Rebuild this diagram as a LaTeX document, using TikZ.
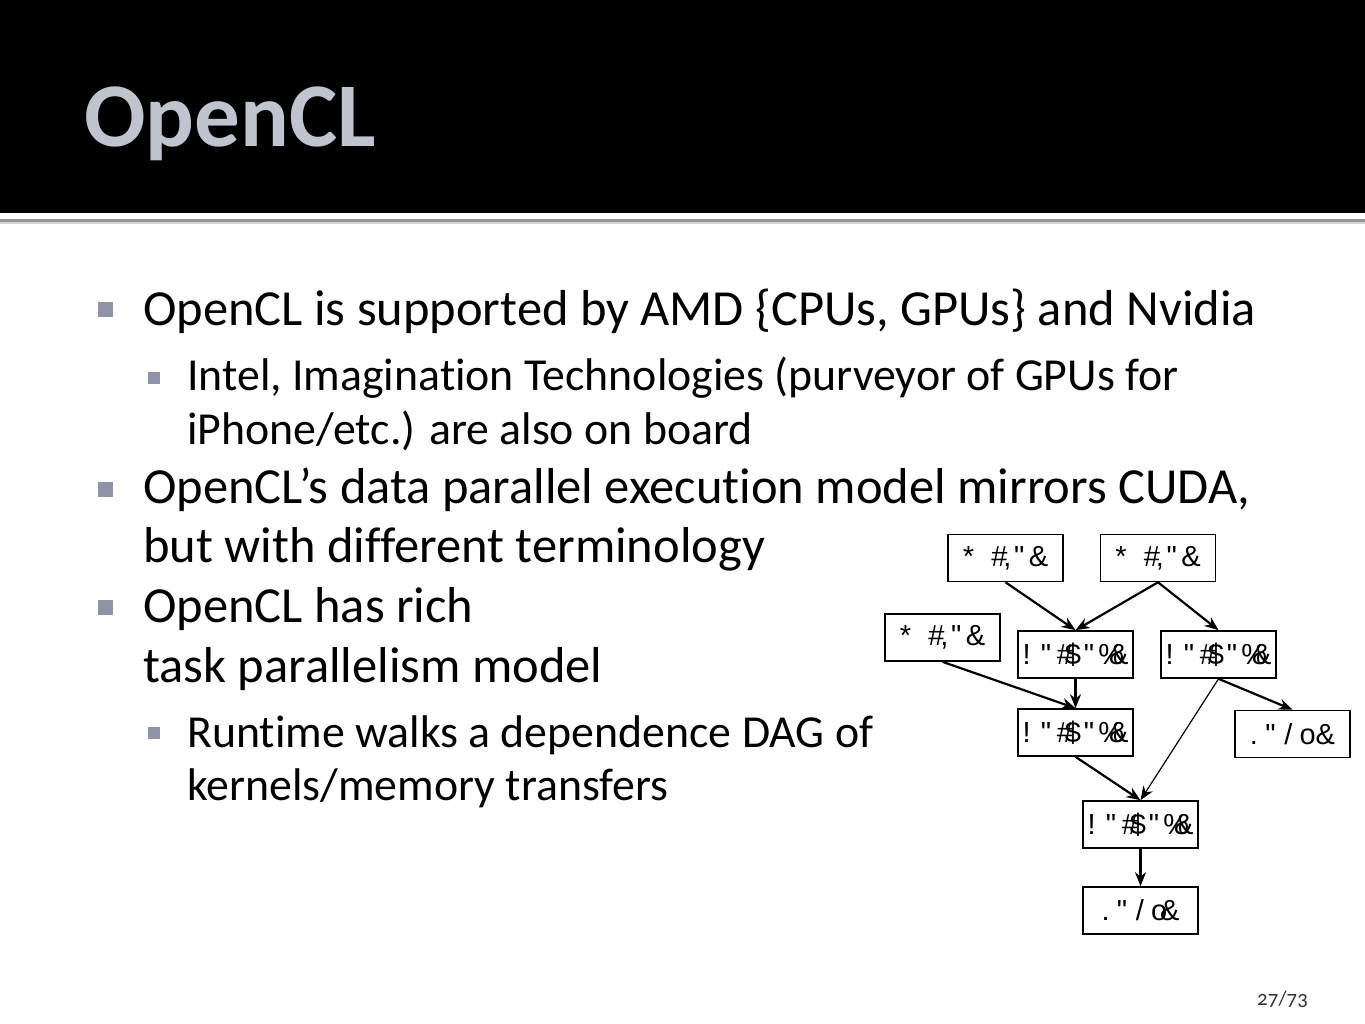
\documentclass[tikz,border=0pt]{standalone}
\usepackage{fontspec}
\usepackage{xcolor}
\usetikzlibrary{arrows.meta}
\setmainfont[Ligatures={NoCommon}]{Carlito}
\newfontfamily\boxfont{Liberation Sans}
\definecolor{titlegray}{RGB}{192,196,206}
\definecolor{bulletgray}{RGB}{142,147,168}
\definecolor{rulegray}{RGB}{150,150,150}
\tikzset{
  taskbox/.style={draw, line width=1.6pt, minimum width=115pt, minimum height=47pt,
    inner sep=2pt, font=\boxfont\fontsize{29}{29}\selectfont},
  dep/.style={line width=2.2pt, -{Stealth[length=14pt,width=11pt]}},
  bodytext/.style={anchor=base west, inner sep=0pt, font=\fontsize{50.5}{50.5}\selectfont},
  subtext/.style={anchor=base west, inner sep=0pt, font=\fontsize{45.8}{45.8}\selectfont},
}
\begin{document}
\begin{tikzpicture}[x=1pt, y=-1pt]
        \useasboundingbox (0,0) rectangle (1365,1024);
        % title bar
        \fill[black] (0,0) rectangle (1365,213);
        \fill[rulegray] (0,219) rectangle (1365,222);
        \fill[rulegray!40] (0,222) rectangle (1365,224);
        \node[anchor=base west, inner sep=0pt, text=titlegray,
          font=\bfseries\fontsize{91}{91}\selectfont] (title) at (84,147) {OpenCL};
        % bullets
        \fill[bulletgray] (98,302) rectangle (113,317);
        \fill[bulletgray] (98,482) rectangle (113,497);
        \fill[bulletgray] (98,600) rectangle (113,615);
        \fill[bulletgray] (148,372) rectangle (160,384);
        \fill[bulletgray] (148,727) rectangle (160,739);
        \node[bodytext] (l1) at (143,325) {OpenCL is supported by AMD \{CPUs, GPUs\} and Nvidia};
        \node[subtext] (l2) at (187,390) {Intel, Imagination Technologies (purveyor of GPUs for};
        \node[subtext] (l3) at (187,444) {iPhone/etc.) are also on board};
        \node[bodytext] (l4) at (143,503) {OpenCL’s data parallel execution model mirrors CUDA,};
        \node[bodytext] (l5) at (143,562) {but with different terminology};
        \node[bodytext] (l6) at (143,622) {OpenCL has rich};
        \node[bodytext] (l7) at (143,682) {task parallelism model};
        \node[subtext] (l8) at (187,747) {Runtime walks a dependence DAG of};
        \node[subtext] (l9) at (187,800) {kernels/memory transfers};
        % dependence DAG
        \node[taskbox] (wa) at (1005.5,558) {*\kern0.6em\#\kern-0.15em,\kern0.1em"\kern0.15em\&};
        \node[taskbox] (wb) at (1158,558) {*\kern0.6em\#\kern-0.15em,\kern0.1em"\kern0.15em\&};
        \node[taskbox] (wc) at (942.5,637.5) {*\kern0.6em\#\kern-0.15em,\kern0.1em"\kern0.15em\&};
        \node[taskbox] (ka) at (1075.5,654.5) {!\kern0.35em"\kern0.2em\#\kern-0.28em\$\kern0.1em"\kern0.14em\%\kern-0.52em\&};
        \node[taskbox] (kb) at (1218.5,654.5) {!\kern0.35em"\kern0.2em\#\kern-0.28em\$\kern0.1em"\kern0.14em\%\kern-0.52em\&};
        \node[taskbox] (kc) at (1075.5,732.5) {!\kern0.35em"\kern0.2em\#\kern-0.28em\$\kern0.1em"\kern0.14em\%\kern-0.52em\&};
        \node[taskbox] (ra) at (1292.5,734) {.\kern0.25em"\kern0.3em/\kern0.25em o\&};
        \node[taskbox] (kd) at (1140.5,824.5) {!\kern0.35em"\kern0.2em\#\kern-0.28em\$\kern0.1em"\kern0.14em\%\kern-0.52em\&};
        \node[taskbox] (rb) at (1140.5,910.5) {.\kern0.25em"\kern0.3em/\kern0.25em o\kern-0.25em\&};
        \draw[dep] (wa.south) -- (ka.north);
        \draw[dep] (wb.south) -- (ka.north);
        \draw[dep] (wb.south) -- (kb.north);
        \draw[dep] (wc.south) -- (kc.north);
        \draw[dep] (ka.south) -- (kc.north);
        \draw[dep] (kb.south) -- (ra.north);
        \draw[dep, line width=1.2pt] (kb.south) -- (kd.north);
        \draw[dep] (kc.south) -- (kd.north);
        \draw[dep] (kd.south) -- (rb.north);
        % page number
        \node[anchor=base west, inner sep=0pt, text=black!80,
          font=\fontsize{21}{21}\selectfont\addfontfeatures{Numbers=OldStyle}] (page) at (1257,1005) {27/73};
    \end{tikzpicture}
\end{document}
